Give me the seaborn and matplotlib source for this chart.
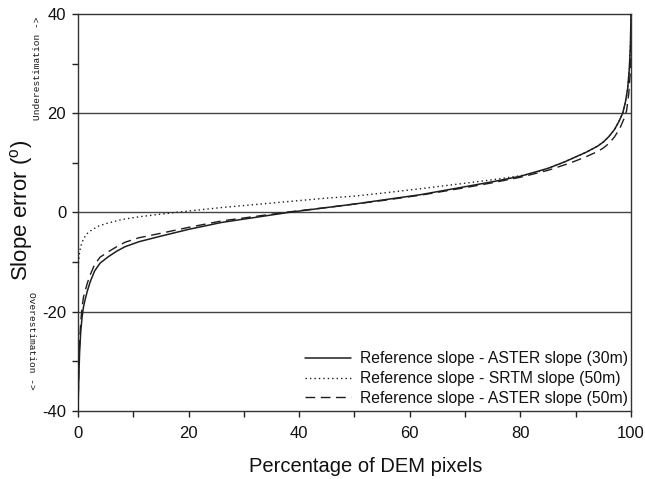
import matplotlib
matplotlib.use("Agg")
import matplotlib.pyplot as plt
import seaborn as sns
import pandas as pd
from matplotlib.ticker import MultipleLocator

# Cumulative distribution of slope differences (reference minus DEM-derived slope)
pct_aster30 = [0, 0.15, 0.3, 0.5, 0.75, 1, 1.3, 1.7, 2.2, 3, 4, 5.5, 7, 8.5, 11, 14.5, 20,
               26, 32, 38, 45, 50, 55, 62, 70, 75, 80, 85, 88, 90, 92, 94, 95, 96, 97,
               97.8, 98.5, 99, 99.4, 99.7, 99.9, 100]
err_aster30 = [-40, -33, -28, -24, -21, -19, -17.5, -15.8, -14.0, -11.8, -10.2, -8.9, -7.8,
               -6.9, -5.9, -4.9, -3.4, -2.0, -1.0, 0.0, 1.0, 1.7, 2.5, 3.6, 5.2, 6.2, 7.3,
               8.9, 10.2, 11.2, 12.2, 13.4, 14.2, 15.3, 16.7, 18.3, 20.0, 22.3, 25.0, 29.0,
               34.0, 40.0]

pct_srtm50 = [0, 0.1, 0.25, 0.5, 1, 1.6, 2.5, 3.8, 5.5, 8, 11.5, 17.5, 26, 35, 45, 50, 55,
              62, 70, 75, 80, 83, 85, 88, 90, 92, 94, 95, 96, 97, 97.8, 98.5, 99, 99.4,
              99.7, 99.9, 100]
err_srtm50 = [-12, -10, -8.3, -6.8, -5.3, -4.3, -3.5, -2.7, -2.1, -1.4, -0.8, 0.0, 1.0, 1.9,
              2.9, 3.3, 3.9, 4.8, 5.9, 6.6, 7.4, 8.1, 8.9, 10.2, 11.2, 12.2, 13.4, 14.2,
              15.3, 16.7, 18.3, 20.0, 22.3, 25.0, 29.0, 34.0, 40.0]

pct_aster50 = [0, 0.15, 0.3, 0.5, 0.75, 1, 1.3, 1.7, 2.2, 3, 4, 5.5, 7, 8.5, 11, 14.5, 20,
               26, 32, 38, 45, 50, 55, 62, 70, 75, 80, 85, 88, 90, 92, 94, 95, 96, 97,
               98, 98.7, 99.2, 99.6, 99.85, 100]
err_aster50 = [-40, -31, -26, -22, -19, -17, -15.8, -14.2, -12.6, -10.5, -9.0, -7.9, -6.9,
               -6.0, -5.1, -4.3, -3.0, -1.7, -0.8, 0.1, 1.0, 1.7, 2.4, 3.5, 5.0, 6.0, 7.1,
               8.5, 9.6, 10.4, 11.3, 12.3, 13.0, 13.9, 15.2, 17.0, 18.8, 20.5, 24.0, 28.0,
               33.0]

labels = ["Reference slope - ASTER slope (30m)",
          "Reference slope - SRTM slope (50m)",
          "Reference slope - ASTER slope (50m)"]

x_ticks = [0, 20, 40, 60, 80, 100]
y_ticks = [-40, -20, 0, 20, 40]

sns.set_theme(style="white")
plt.rcParams["font.family"] = ["Liberation Sans", "DejaVu Sans"]
plt.rcParams["axes.unicode_minus"] = False

fig = plt.figure(figsize=(6.45, 4.79), dpi=100)
ax = fig.add_axes([0.1209, 0.142, 0.8574, 0.8288])

line_color = "#1e1e1e"

# Reference lines at -20, 0 and 20 degrees
for yv in (-20, 0, 20):
    ax.axhline(yv, color="#444444", lw=1.0, zorder=1)

series = [
    (pct_aster30, err_aster30, "-", 1.1),
    (pct_srtm50, err_srtm50, (0, (1, 2.2)), 1.0),
    (pct_aster50, err_aster50, (0, (7, 4)), 1.0),
]
for (xs, ys, ls, lw), lab in zip(series, labels):
    df = pd.DataFrame({"pct": xs, "err": ys})
    sns.lineplot(data=df, x="pct", y="err", ax=ax, color=line_color,
                 linestyle=ls, lw=lw, label=lab, zorder=3)

ax.set_xlim(0, 100)
ax.set_ylim(-40, 40)
ax.set_xticks(x_ticks)
ax.set_yticks(y_ticks)
ax.xaxis.set_minor_locator(MultipleLocator(10))
ax.yaxis.set_minor_locator(MultipleLocator(10))
ax.tick_params(axis="both", which="both", direction="out", length=4.5, width=1,
               color="#222222", labelsize=12, labelcolor="#111111",
               bottom=True, left=True, top=False, right=False)
ax.tick_params(axis="x", pad=6)
ax.tick_params(axis="y", pad=4)

for side in ("left", "bottom", "top", "right"):
    ax.spines[side].set_visible(True)
    ax.spines[side].set_color("#333333")
    ax.spines[side].set_linewidth(1.0)

ax.set_xlabel("Percentage of DEM pixels", fontsize=14.5, color="#111111", va="center")
ax.xaxis.set_label_coords(0.52, -0.141)
ax.set_ylabel("Slope error ($^{\\mathregular{o}}$)", fontsize=16, color="#111111",
              va="center")
ax.yaxis.set_label_coords(-0.1013, 0.506)

# Direction hints beside the y axis
fig.text(37 / 645, 1 - 68 / 479, "Underestimation ->", rotation=90,
         ha="center", va="center", fontsize=6.8, family="Liberation Mono", color="#111111")
fig.text(31 / 645, 1 - 341 / 479, "Overestimation ->", rotation=-90,
         ha="center", va="center", fontsize=6.8, family="Liberation Mono", color="#111111")

leg = ax.legend(loc="lower right", frameon=False, fontsize=11.3, handlelength=2.9,
                handletextpad=0.6, labelspacing=0.3, borderaxespad=0.0,
                bbox_to_anchor=(1.006, -0.003))
for t in leg.get_texts():
    t.set_color("#111111")

fig.savefig("out.png", dpi=100)
